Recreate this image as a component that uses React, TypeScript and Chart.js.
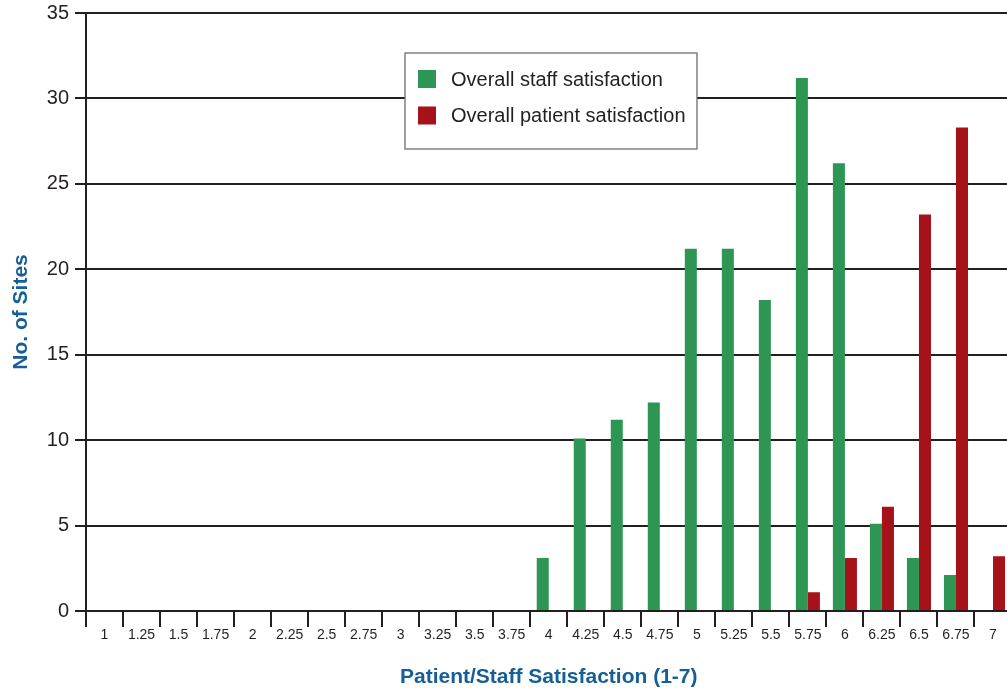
import React, { useEffect, useRef } from "react";
import { Chart, registerables } from "chart.js";

Chart.register(...registerables);

const categories = [
  "1", "1.25", "1.5", "1.75", "2", "2.25", "2.5", "2.75", "3", "3.25", "3.5", "3.75",
  "4", "4.25", "4.5", "4.75", "5", "5.25", "5.5", "5.75", "6", "6.25", "6.5", "6.75", "7",
];

const staffSatisfaction = [
  null, null, null, null, null, null, null, null, null, null, null, null,
  3.1, 10.1, 11.2, 12.2, 21.2, 21.2, 18.2, 31.2, 26.2, 5.1, 3.1, 2.1, null,
];

const patientSatisfaction = [
  null, null, null, null, null, null, null, null, null, null, null, null,
  null, null, null, null, null, null, null, 1.1, 3.1, 6.1, 23.2, 28.3, 3.2,
];

const yTicks = [0, 5, 10, 15, 20, 25, 30, 35];

const seriesLabels = ["Overall staff satisfaction", "Overall patient satisfaction"];
const GREEN = "rgb(46,150,85)";
const RED = "rgb(166,18,26)";
const INK = "#231f20";
const BLUE = "rgb(21,94,150)";
const FONT = "'Liberation Sans', Arial, Helvetica, sans-serif";

const legendPlugin = {
  id: "boxLegend",
  afterDraw(chart: any) {
    const ctx = chart.ctx;
    ctx.save();
    const x = 405, y = 53, w = 292, h = 96;
    ctx.fillStyle = "#ffffff";
    ctx.fillRect(x, y, w, h);
    ctx.strokeStyle = "#6d6e71";
    ctx.lineWidth = 1.3;
    ctx.strokeRect(x, y, w, h);
    const colors = [GREEN, RED];
    ctx.font = `20px ${FONT}`;
    ctx.textBaseline = "middle";
    ctx.textAlign = "left";
    seriesLabels.forEach((lab, i) => {
      const cy = 79 + i * 36.5;
      ctx.fillStyle = colors[i];
      ctx.fillRect(418, cy - 9, 18, 18);
      ctx.fillStyle = INK;
      ctx.fillText(lab, 451, cy + 1);
    });
    ctx.restore();
  },
};

export default function App() {
  const ref = useRef<HTMLCanvasElement | null>(null);
  useEffect(() => {
    if (!ref.current) return;
    const chart = new Chart(ref.current, {
      type: "bar",
      data: {
        labels: categories,
        datasets: [
          {
            label: seriesLabels[0],
            data: staffSatisfaction as any,
            backgroundColor: GREEN,
            categoryPercentage: 0.65,
            barPercentage: 1.0,
          },
          {
            label: seriesLabels[1],
            data: patientSatisfaction as any,
            backgroundColor: RED,
            categoryPercentage: 0.65,
            barPercentage: 1.0,
          },
        ],
      },
      options: {
        animation: false,
        responsive: false,
        devicePixelRatio: 1,
        layout: { padding: { top: 13, right: 8.5, bottom: 0, left: 0 } },
        plugins: {
          legend: { display: false },
          tooltip: { enabled: false },
        },
        scales: {
          x: {
            grid: {
              display: true,
              offset: true,
              drawOnChartArea: false,
              drawTicks: true,
              tickLength: 16,
              color: INK,
              lineWidth: 2,
            },
            border: { display: true, color: INK, width: 2 },
            ticks: {
              color: INK,
              font: { family: FONT, size: 14 },
              padding: 0,
              maxRotation: 0,
              autoSkip: false,
            },
            title: {
              display: true,
              text: "Patient/Staff Satisfaction (1-7)",
              color: BLUE,
              font: { family: FONT, size: 21, weight: "bold" },
              padding: { top: 0, bottom: 2 },
            },
            afterFit: (s: any) => {
              s.height = 81;
              s.paddingLeft = 0;
              s.paddingRight = 0;
            },
          },
          y: {
            min: 0,
            max: 35,
            afterBuildTicks: (s: any) => {
              s.ticks = yTicks.map((v) => ({ value: v }));
            },
            grid: {
              color: INK,
              lineWidth: 2,
              drawTicks: true,
              tickLength: 11,
            },
            border: { display: true, color: INK, width: 2 },
            ticks: {
              color: INK,
              font: { family: FONT, size: 20 },
              padding: 6,
            },
            title: {
              display: true,
              text: "No. of Sites",
              color: BLUE,
              font: { family: FONT, size: 21, weight: "bold" },
              padding: { top: 9, bottom: 0 },
            },
            afterFit: (s: any) => {
              s.width = 86;
              s.paddingTop = 0;
              s.paddingBottom = 0;
            },
          },
        },
      },
      plugins: [legendPlugin],
    });
    return () => chart.destroy();
  }, []);

  return (
    <div
      style={{
        position: "fixed",
        left: 0,
        top: 0,
        width: 1007,
        height: 692,
        overflow: "hidden",
        background: "#fff",
      }}
    >
      <canvas ref={ref} width={1020} height={692} style={{ display: "block" }} />
    </div>
  );
}
